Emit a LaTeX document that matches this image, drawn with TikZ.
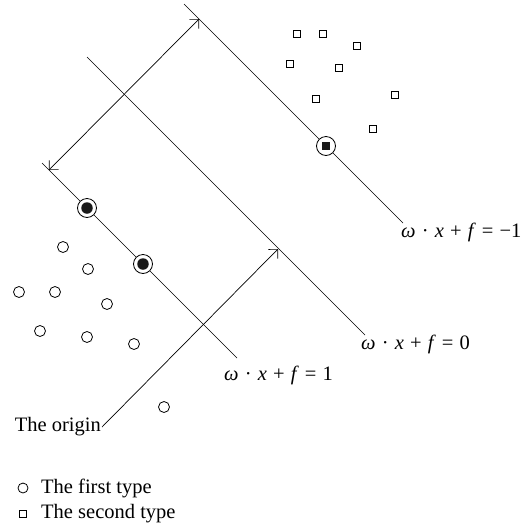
\documentclass[tikz,border=0pt]{standalone}
\usepackage{fontspec}
\setmainfont{Liberation Serif}
\usetikzlibrary{arrows.meta}
\tikzset{
  ln/.style={line width=0.7pt},
  arr/.style={ln, -{Straight Barb[length=6.5pt,width=13pt,line width=0.7pt]}},
  darr/.style={ln, {Straight Barb[length=6.5pt,width=13pt,line width=0.7pt]}-{Straight Barb[length=6.5pt,width=13pt,line width=0.7pt]}},
  pc/.style={circle, draw, line width=0.8pt, minimum size=11pt, inner sep=0pt},
  ps/.style={rectangle, draw, line width=0.9pt, minimum size=7.5pt, inner sep=0pt},
  svc/.style={circle, draw, line width=0.8pt, fill=white, minimum size=19pt, inner sep=0pt},
  svin/.style={circle, fill=black!90, minimum size=11.5pt, inner sep=0pt},
  svsq/.style={rectangle, fill=black!90, minimum size=8pt, inner sep=0pt},
  lbl/.style={font=\fontsize{20.5}{24}\selectfont, inner sep=0pt},
}
\newcommand{\wxf}[1]{\textit{ω}\hspace{0.3em}·\hspace{0.3em}\textit{x}\hspace{0.3em}+\hspace{0.3em}\textit{f}\hspace{0.3em}=\hspace{0.3em}#1}
\begin{document}
\begin{tikzpicture}[x=1pt,y=-1pt]
\useasboundingbox (0,0) rectangle (526,531);
% hyperplanes
\coordinate (ma) at (184,4);  \coordinate (mb) at (403,223);
\coordinate (za) at (87,57);  \coordinate (zb) at (365,335);
\coordinate (pa) at (42,163); \coordinate (pb) at (237,358);
\draw[ln] (ma) -- (mb);
\draw[ln] (za) -- (zb);
\draw[ln] (pa) -- (pb);
% margin arrow
\coordinate (da) at (49,170); \coordinate (db) at (199,19);
\draw[darr] (da) -- (db);
% origin arrow
\coordinate (oa) at (102,427); \coordinate (ob) at (278,249);
\draw[arr] (oa) -- (ob);
% open circles
\foreach \n/\x/\y in {c1/63/247,c2/88/269,c3/19/292,c4/55/292,c5/107/304,c6/40/331,c7/87/337,c8/134/344,c9/164/407}
  \node[pc] (\n) at (\x,\y) {};
% squares
\foreach \n/\x/\y in {s1/297/34,s2/323/34,s3/357/46,s4/290/64,s5/339/68,s6/316/99,s7/395/95,s8/373/129}
  \node[ps] (\n) at (\x,\y) {};
% support vectors
\node[svc] (sv1) at (87,208) {};
\node[svin] (sv1i) at (sv1) {};
\node[svc] (sv2) at (143,264) {};
\node[svin] (sv2i) at (sv2) {};
\node[svc] (sv3) at (326,146) {};
\node[svsq] (sv3i) at (sv3) {};
% labels
\node[lbl, anchor=west] (lm) at (401,232) {\wxf{−1}};
\node[lbl, anchor=west] (lz) at (361,344) {\wxf{0}};
\node[lbl, anchor=west] (lp) at (224,375) {\wxf{1}};
\node[lbl, anchor=east] (lo) at (101,427) {The origin};
% legend
\node[pc, minimum size=10pt] (lc) at (23,488) {};
\node[lbl, anchor=west] (lct) at (41,488) {The first type};
\node[ps, minimum size=7pt] (ls) at (23,514) {};
\node[lbl, anchor=west] (lst) at (41,514) {The second type};
\end{tikzpicture}
\end{document}
